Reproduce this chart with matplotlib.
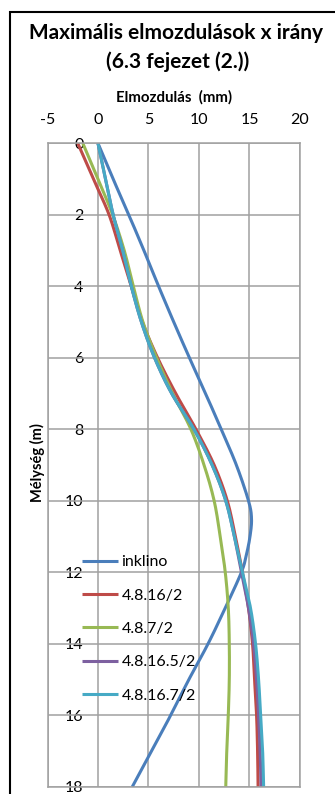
import numpy as np
import matplotlib
matplotlib.use("Agg")
import matplotlib.pyplot as plt
from matplotlib.patches import Rectangle

# Depth of measurement points (m)
depth = [0, 1, 2, 3, 4, 5, 6, 7, 8, 9, 10, 11, 12, 13, 14, 15, 16, 17, 18]
depth_inklino = [0, 1, 2, 3, 4, 5, 6, 7, 8, 9, 10, 10.5, 11, 11.5, 12,
                 13, 14, 15, 16, 17, 18]

# Displacements (mm)
inklino = [0.0, 1.5, 3.05, 4.55, 6.0, 7.5, 9.05, 10.65, 12.2, 13.7, 14.9,
           15.2, 15.05, 14.7, 14.2, 12.6, 10.9, 9.0, 7.2, 5.3, 3.4]
m_16_2 = [-2.0, -0.45, 1.1, 2.2, 3.3, 4.4, 5.9, 7.7, 9.7, 11.5, 12.8, 13.6,
          14.3, 14.9, 15.3, 15.5, 15.7, 15.8, 15.85]
m_7_2 = [-1.5, 0.0, 1.45, 2.6, 3.5, 4.45, 5.8, 7.4, 9.2, 10.5, 11.5, 12.1,
         12.6, 12.9, 13.0, 13.0, 12.9, 12.75, 12.65]
m_16_5_2 = [0.0, 0.75, 1.5, 2.45, 3.3, 4.3, 5.6, 7.3, 9.5, 11.3, 12.65, 13.5,
            14.2, 14.9, 15.4, 15.7, 15.9, 16.05, 16.15]
m_16_7_2 = [0.0, 0.75, 1.5, 2.45, 3.3, 4.3, 5.6, 7.3, 9.5, 11.3, 12.65, 13.5,
            14.3, 15.1, 15.6, 15.9, 16.1, 16.3, 16.4]

labels = ["inklino", "4.8.16/2", "4.8.7/2", "4.8.16.5/2", "4.8.16.7/2"]
colors = ["#4A7EBB", "#BE4B48", "#98B954", "#7D60A0", "#46AAC5"]

x_ticks = [-5, 0, 5, 10, 15, 20]
y_ticks = [0, 2, 4, 6, 8, 10, 12, 14, 16, 18]


def smooth(x, y, n=16):
    """Catmull-Rom curve through the points (smoothed line)."""
    p = np.column_stack([x, y]).astype(float)
    p = np.vstack([2 * p[0] - p[1], p, 2 * p[-1] - p[-2]])
    out = []
    t = np.linspace(0, 1, n, endpoint=False)[:, None]
    for i in range(1, len(p) - 2):
        p0, p1, p2, p3 = p[i - 1], p[i], p[i + 1], p[i + 2]
        seg = 0.5 * ((2 * p1) + (-p0 + p2) * t
                     + (2 * p0 - 5 * p1 + 4 * p2 - p3) * t ** 2
                     + (-p0 + 3 * p1 - 3 * p2 + p3) * t ** 3)
        out.append(seg)
    out.append(p[-2][None, :])
    out = np.vstack(out)
    return out[:, 0], out[:, 1]


plt.rcParams["font.family"] = ["Lato", "DejaVu Sans"]
plt.rcParams["axes.unicode_minus"] = False

fig = plt.figure(figsize=(3.35, 7.94), dpi=100)
ax = fig.add_axes([0.1418, 0.0092, 0.7537, 0.8103])

series = [(inklino, depth_inklino), (m_16_2, depth), (m_7_2, depth),
          (m_16_5_2, depth), (m_16_7_2, depth)]
for (vals, dep), lab, col in zip(series, labels, colors):
    sx, sy = smooth(vals, dep)
    ax.plot(sx, sy, color=col, lw=2.2, label=lab, solid_capstyle="butt")

ax.set_xlim(-5, 20)
ax.set_ylim(18, 0)
ax.set_xticks(x_ticks)
ax.set_yticks(y_ticks)
ax.xaxis.tick_top()
ax.xaxis.set_label_position("top")
ax.tick_params(axis="x", length=0, pad=12, labelsize=11.5)
ax.tick_params(axis="y", length=0, labelleft=False)
ax.grid(True, color="#A0A0A0", lw=1.1)
ax.set_axisbelow(True)
for s in ax.spines.values():
    s.set_color("#A0A0A0")
    s.set_linewidth(1.1)

# depth labels sit along the zero-displacement line
sec = ax.secondary_yaxis(0.2)
sec.set_yticks(y_ticks)
sec.spines["left"].set_visible(False)
sec.tick_params(length=0, pad=10.5, labelsize=11.5)

ax.set_xlabel("Elmozdulás  (mm)", fontsize=10.8, fontweight="bold", labelpad=8)
fig.text(37 / 335, 1 - 463 / 794, "Mélység (m)", rotation=90,
         ha="center", va="center", fontsize=10.5, fontweight="bold")

fig.text(176 / 335, 1 - 33 / 794, "Maximális elmozdulások x irány",
         ha="center", va="center", fontsize=15, fontweight="bold")
fig.text(178 / 335, 1 - 62 / 794, "(6.3 fejezet (2.))",
         ha="center", va="center", fontsize=15, fontweight="bold")

leg = ax.legend(loc="upper left", bbox_to_anchor=(0.135, 0.360), frameon=False,
                fontsize=11.5, handlelength=2.3, handletextpad=0.2,
                labelspacing=1.2, borderpad=0, borderaxespad=0)

# outer chart frame
fig.patches.append(Rectangle((10 / 335, -0.05), 1.2, 1 - 12 / 794 + 0.05,
                             transform=fig.transFigure, fill=False,
                             edgecolor="black", lw=1.5))

fig.savefig("out.png", dpi=100)
